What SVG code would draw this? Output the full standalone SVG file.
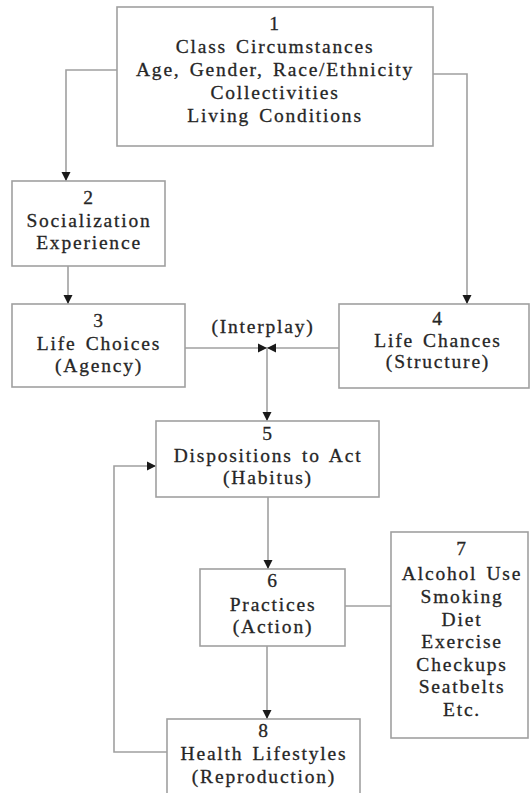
<svg xmlns="http://www.w3.org/2000/svg" width="532" height="793" viewBox="0 0 532 793">
<style>
.box{fill:#fff;stroke:#a0a0a0;stroke-width:1.6}
.ln{fill:none;stroke:#a0a0a0;stroke-width:1.6}
text{font-family:"Liberation Serif","Times New Roman",serif;font-size:19.5px;fill:#262626;stroke:#262626;stroke-width:0.3;text-anchor:middle;letter-spacing:1.8px;word-spacing:2.5px}
</style>
<defs>
<marker id="ah" viewBox="0 0 10 10" refX="10" refY="5" markerWidth="9" markerHeight="12" markerUnits="userSpaceOnUse" orient="auto">
<path d="M0,0 L10,5 L0,10 z" fill="#1a1a1a"/>
</marker>
</defs>
<rect width="532" height="793" fill="#fff"/>
<g id="connectors">
<path class="ln" d="M117,70 H66 V181" marker-end="url(#ah)"/>
<path class="ln" d="M433,74 H467 V304" marker-end="url(#ah)"/>
<path class="ln" d="M68,266 V304" marker-end="url(#ah)"/>
<path class="ln" d="M185,348 H267" marker-end="url(#ah)"/>
<path class="ln" d="M339,348 H267" marker-end="url(#ah)"/>
<path class="ln" d="M267,348 V421" marker-end="url(#ah)"/>
<path class="ln" d="M268,497 V569" marker-end="url(#ah)"/>
<path class="ln" d="M267,646 V719" marker-end="url(#ah)"/>
<path class="ln" d="M345,606 H391"/>
<path class="ln" d="M167,752 H114 V466 H156" marker-end="url(#ah)"/>
<text x="263" y="333">(Interplay)</text>
</g>
<g id="n1">
<rect class="box" x="117" y="7" width="316" height="139"/>
<text x="275" y="30">1</text>
<text x="275" y="53">Class Circumstances</text>
<text x="275" y="76">Age, Gender, Race/Ethnicity</text>
<text x="275" y="99">Collectivities</text>
<text x="275" y="122">Living Conditions</text>
</g>
<g id="n2">
<rect class="box" x="12" y="181" width="153" height="85"/>
<text x="89" y="204">2</text>
<text x="89" y="227">Socialization</text>
<text x="89" y="249">Experience</text>
</g>
<g id="n3">
<rect class="box" x="12" y="304" width="173" height="83"/>
<text x="99" y="327">3</text>
<text x="99" y="350">Life Choices</text>
<text x="99" y="372">(Agency)</text>
</g>
<g id="n4">
<rect class="box" x="339" y="304" width="190" height="84"/>
<text x="438" y="325">4</text>
<text x="438" y="347">Life Chances</text>
<text x="438" y="368">(Structure)</text>
</g>
<g id="n5">
<rect class="box" x="156" y="421" width="223" height="76"/>
<text x="268" y="440">5</text>
<text x="268" y="462">Dispositions to Act</text>
<text x="268" y="484">(Habitus)</text>
</g>
<g id="n6">
<rect class="box" x="200" y="569" width="145" height="77"/>
<text x="273" y="587">6</text>
<text x="273" y="611">Practices</text>
<text x="273" y="633">(Action)</text>
</g>
<g id="n7">
<rect class="box" x="391" y="532" width="137" height="206"/>
<text x="462" y="555">7</text>
<text x="462" y="580">Alcohol Use</text>
<text x="462" y="603">Smoking</text>
<text x="462" y="626">Diet</text>
<text x="462" y="648">Exercise</text>
<text x="462" y="671">Checkups</text>
<text x="462" y="693">Seatbelts</text>
<text x="462" y="716">Etc.</text>
</g>
<g id="n8">
<rect class="box" x="167" y="719" width="193" height="90"/>
<text x="264" y="737">8</text>
<text x="264" y="760">Health Lifestyles</text>
<text x="264" y="783">(Reproduction)</text>
</g>
</svg>
